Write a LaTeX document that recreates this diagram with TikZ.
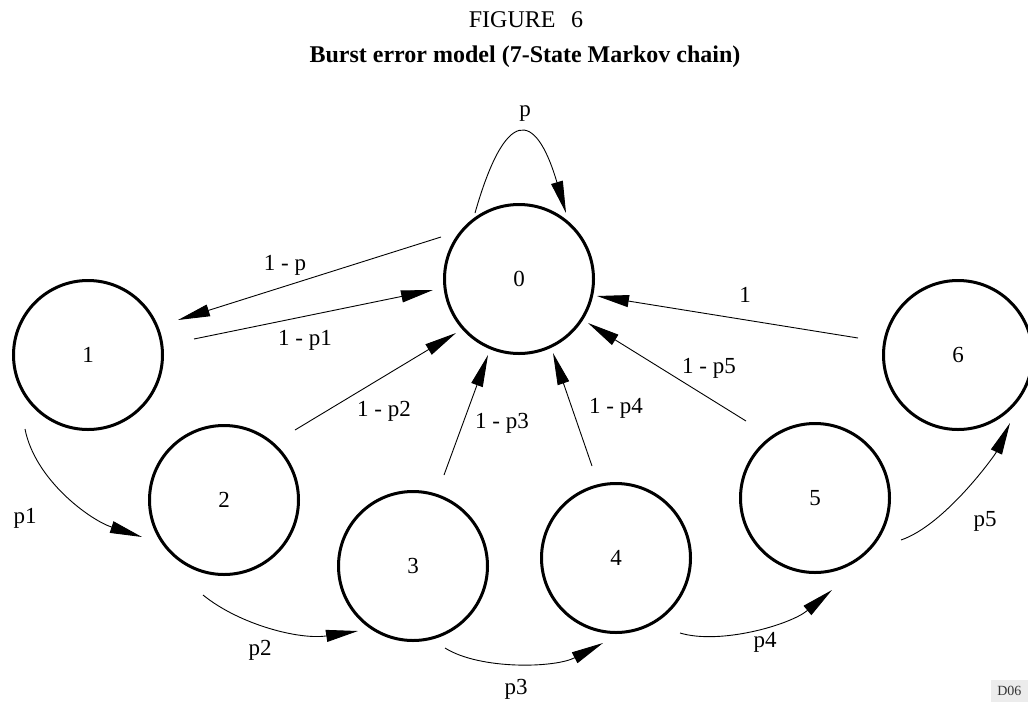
\documentclass[tikz,border=0pt]{standalone}
\usepackage{fontspec}
\setmainfont{Liberation Serif}
\usetikzlibrary{arrows.meta,calc}
\begin{document}
\begin{tikzpicture}[x=1pt,y=-1pt,
  state/.style={circle,draw,line width=3pt,minimum size=149pt,inner sep=0pt,font=\fontsize{23}{23}\selectfont},
  lbl/.style={font=\fontsize{23}{23}\selectfont,inner sep=0pt},
  edge/.style={line width=0.9pt,-{Triangle[length=32pt,width=12pt]}}]
\useasboundingbox (0,0) rectangle (1028,702);
% titles
\node[font=\fontsize{24}{24}\selectfont,inner sep=0pt] (t1) at (526,20) {FIGURE\hspace{0.65em}6};
\node[font=\fontsize{24}{24}\selectfont\bfseries,inner sep=0pt] (t2) at (525,57) {Burst error model (7-State Markov chain)};
% states
\node[state] (n0) at (519,279) {0};
\node[state] (n1) at (88,355) {1};
\node[state] (n2) at (224,500) {2};
\node[state] (n3) at (413,566) {3};
\node[state] (n4) at (616,558) {4};
\node[state] (n5) at (815,498) {5};
\node[state] (n6) at (958,355) {6};
% straight connectors
\draw[edge] ($(n0)+(-78,-42)$) -- ($(n1)+(90,-35)$);
\draw[edge] ($(n1)+(106,-16)$) -- ($(n0)+(-86,11)$);
\draw[edge] ($(n2)+(71,-70)$) -- ($(n0)+(-63,54)$);
\draw[edge] ($(n3)+(31,-91)$) -- ($(n0)+(-31,76)$);
\draw[edge] ($(n4)+(-24,-92)$) -- ($(n0)+(34,74)$);
\draw[edge] ($(n5)+(-69,-77)$) -- ($(n0)+(69,44)$);
\draw[edge] ($(n6)+(-100,-17)$) -- ($(n0)+(78,17)$);
% self loop
\draw[edge] ($(n0)+(-44,-66)$) .. controls (505,108) and (535,108) .. ($(n0)+(47,-66)$);
% chain arcs
\draw[edge] ($(n1)+(-63,74)$) .. controls (35,480) and (90,520) .. ($(n2)+(-82,37)$);
\draw[edge] ($(n2)+(-21,95)$) .. controls (240,625) and (300,640) .. ($(n3)+(-55,65)$);
\draw[edge] ($(n3)+(32,82)$) .. controls (480,670) and (555,668) .. ($(n4)+(-13,85)$);
\draw[edge] ($(n4)+(64,75)$) .. controls (720,645) and (790,625) .. ($(n5)+(17,92)$);
\draw[edge] ($(n5)+(86,42)$) .. controls (945,525) and (995,455) .. ($(n6)+(52,68)$);
% labels
\node[lbl] (lp) at (525,114) {p};
\node[lbl] (l01) at (285,265) {1 - p};
\node[lbl] (l10) at (305,340) {1 - p1};
\node[lbl] (l20) at (384,411) {1 - p2};
\node[lbl] (l30) at (502,423) {1 - p3};
\node[lbl] (l40) at (616,408) {1 - p4};
\node[lbl] (l50) at (709,368) {1 - p5};
\node[lbl] (l60) at (745,295) {1};
\node[lbl] (lp1) at (25,518) {p1};
\node[lbl] (lp2) at (260,650) {p2};
\node[lbl] (lp3) at (516,689) {p3};
\node[lbl] (lp4) at (765,642) {p4};
\node[lbl] (lp5) at (985,521) {p5};
% code box
\node[fill=gray!15,text=black!80,font=\fontsize{14}{14}\selectfont,inner sep=0pt,minimum width=37pt,minimum height=22pt,anchor=south east] (code) at (1028,702) {D06};
\end{tikzpicture}
\end{document}
